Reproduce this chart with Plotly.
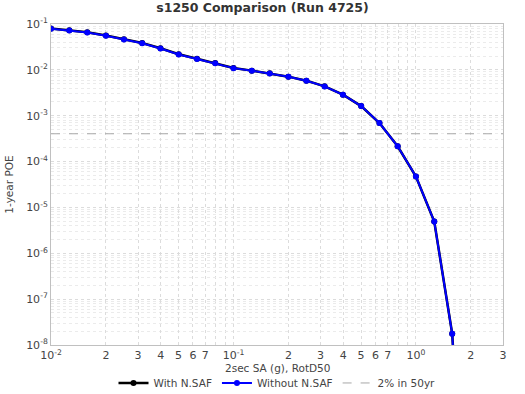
import plotly.graph_objects as go

iml = [0.01, 0.0126, 0.0158, 0.02, 0.0251, 0.0316, 0.0398, 0.0501, 0.0631, 0.0794,
       0.1, 0.126, 0.158, 0.2, 0.251, 0.316, 0.398, 0.501, 0.631, 0.794,
       1.0, 1.26, 1.58, 2.0]
poe_without = [0.0786, 0.0722, 0.0653, 0.0553, 0.046, 0.0382, 0.0293, 0.0217, 0.0173, 0.014,
               0.0109, 0.00958, 0.00836, 0.00709, 0.0058, 0.00436, 0.00287, 0.00162, 6.92e-4, 2.15e-4,
               4.71e-5, 4.94e-6, 1.76e-8, 4e-15]
poe_with = [0.0800, 0.0735, 0.0662, 0.0560, 0.0465, 0.0386, 0.0296, 0.0219, 0.0174, 0.0141,
            0.0110, 0.00962, 0.00839, 0.00711, 0.00581, 0.00437, 0.00287, 0.00162, 6.92e-4, 2.15e-4,
            4.71e-5, 4.94e-6, 1.76e-8, 4e-15]
ref_x = [0.01, 3.0]
ref_poe = [4.04e-4, 4.04e-4]

x_title = "2sec SA (g), RotD50"
y_title = "1-year POE"
x_tickvals = [0.01, 0.02, 0.03, 0.04, 0.05, 0.06, 0.07, 0.1, 0.2, 0.3, 0.4, 0.5, 0.6, 0.7, 1.0, 2.0, 3.0]
x_ticktext = ["10<sup>-2</sup>", "2", "3", "4", "5", "6", "7", "10<sup>-1</sup>", "2", "3", "4", "5", "6", "7",
              "10<sup>0</sup>", "2", "3"]
y_tickvals = [1e-1, 1e-2, 1e-3, 1e-4, 1e-5, 1e-6, 1e-7, 1e-8]
y_ticktext = ["10<sup>-%d</sup>" % k for k in range(1, 9)]

x_minor = [0.08, 0.09, 0.8, 0.9]
y_minor = [m * 10.0 ** e for e in range(-8, -1) for m in range(2, 10)]

fig = go.Figure()
fig.add_trace(go.Scatter(x=iml, y=poe_with, mode="lines+markers", name="With N.SAF",
                         line=dict(color="black", width=2.5), marker=dict(color="black", size=6)))
fig.add_trace(go.Scatter(x=iml, y=poe_without, mode="lines+markers", name="Without N.SAF",
                         line=dict(color="#0000ff", width=2), marker=dict(color="#0000ff", size=6)))
fig.add_trace(go.Scatter(x=ref_x, y=ref_poe, mode="lines", name="2% in 50yr",
                         line=dict(color="#a8a8a8", width=1, dash="dash")))

grid = "#dcdcdc"
fig.update_layout(
    width=525, height=394,
    margin=dict(l=51, r=22, t=24, b=49),
    paper_bgcolor="white", plot_bgcolor="white",
    font=dict(family="DejaVu Sans", size=10.5, color="#444444"),
    title=dict(text="<b>s1250 Comparison (Run 4725)</b>", x=0.5, xanchor="center",
               yref="container", y=0.98, yanchor="middle",
               font=dict(size=12.5, color="#333333")),
    showlegend=True,
    legend=dict(orientation="h", x=0.5, xanchor="center", yref="container", y=0.028, yanchor="middle",
                font=dict(size=10.5), itemwidth=30, tracegroupgap=0),
    xaxis=dict(type="log", range=[-2, 0.4771], tickvals=x_tickvals, ticktext=x_ticktext,
               showgrid=True, gridcolor=grid, griddash="dot", gridwidth=1,
               showline=True, linecolor="#c0c0c0", linewidth=1, mirror=True,
               ticks="", zeroline=False, automargin=False,
               tickfont=dict(size=11),
               minor=dict(tickvals=x_minor, showgrid=True, gridcolor=grid, griddash="dot", ticks="")),
    yaxis=dict(type="log", range=[-8, -1], tickvals=y_tickvals, ticktext=y_ticktext,
               showgrid=True, gridcolor=grid, griddash="dot", gridwidth=1,
               showline=True, linecolor="#c0c0c0", linewidth=1, mirror=True,
               ticks="", zeroline=False, automargin=False,
               tickfont=dict(size=11),
               minor=dict(tickvals=y_minor, showgrid=True, gridcolor="#ebebeb", griddash="dot", ticks=""),
               title=dict(text=y_title, standoff=10, font=dict(size=10.5))),
    annotations=[dict(text=x_title, xref="paper", yref="paper", x=0.5, y=-0.0717,
                      xanchor="center", yanchor="middle", showarrow=False,
                      font=dict(size=10.5, color="#444444"))],
)
fig.write_html("out.html", config={"displayModeBar": False},
               post_script="document.body.style.margin='0';")
